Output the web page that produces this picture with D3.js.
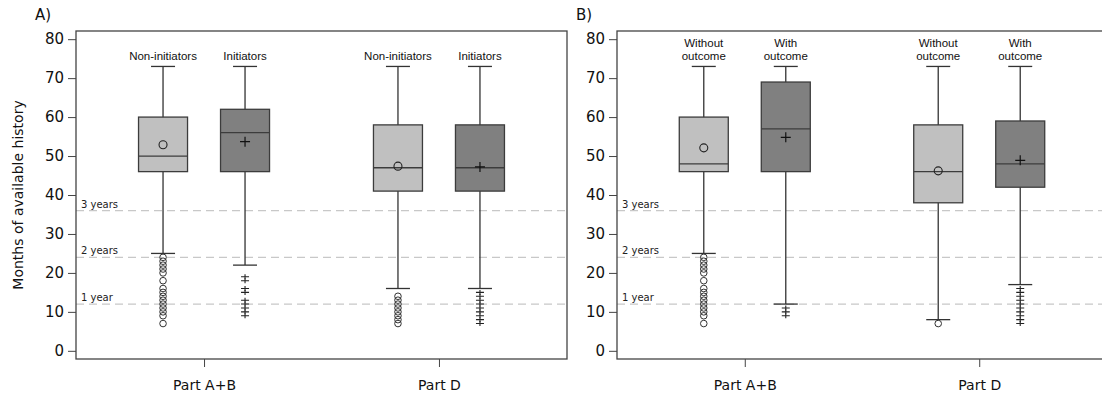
<!DOCTYPE html>
<html>
<head>
<meta charset="utf-8">
<script src="https://cdn.jsdelivr.net/npm/d3@7"></script>
<style>
  html, body { margin: 0; padding: 0; background: #fff; }
  svg { display: block; }
</style>
</head>
<body>
<svg id="chart" width="1102" height="395"></svg>
<script>
// Benefit parts shown along the x axis
const parts = ["Part A+B", "Part D"];

// Panel A: initiation status
const seriesA = ["Non-initiators", "Initiators"];
// Panel B: outcome status (label split over two lines)
const seriesB = ["Without outcome", "With outcome"];

// Box statistics per panel, part and series: [low whisker, Q1, median, Q3, high whisker, mean]
const statsA_nonInit = [[25, 46, 50, 60, 73, 52.9], [16, 41, 47, 58, 73, 47.4]];
const statsA_init    = [[22, 46, 56, 62, 73, 53.7], [16, 41, 47, 58, 73, 47.2]];
const statsB_without = [[25, 46, 48, 60, 73, 52.1], [8, 38, 46, 58, 73, 46.2]];
const statsB_with    = [[12, 46, 57, 69, 73, 54.8], [17, 42, 48, 59, 73, 48.9]];

// Outlying observations (months)
const outA_nonInit = [[24, 23, 22, 21, 20, 18, 16, 15, 14, 13, 12, 11, 10, 9, 7], [14, 13, 12, 11, 10, 9, 8, 7]];
const outA_init    = [[19, 18, 16, 15, 13, 12, 11, 10, 9], [15, 14, 13, 12, 11, 10, 9, 8, 7]];
const outB_without = [[24, 23, 22, 21, 20, 18, 16, 15, 14, 13, 12, 11, 10, 9, 7], [7]];
const outB_with    = [[11, 10, 9], [16, 15, 14, 13, 12, 11, 10, 9, 8, 7]];

// Reference thresholds
const refValues = [36, 24, 12];
const refLabels = ["3 years", "2 years", "1 year"];

// Y axis ticks
const yTicks = [0, 10, 20, 30, 40, 50, 60, 70, 80];

const svg = d3.select("#chart");
const plotTop = 31, plotBottom = 359;
const y = d3.scaleLinear().domain([-2.1, 82.1]).range([plotBottom, plotTop]);

const lightFill = "#c0c0c0", darkFill = "#808080", boxStroke = "#3c3c3c", lineCol = "#333";

function drawPanel(cfg) {
  const { left, right, tag, series, stats, outliers, labelLines } = cfg;
  const g = svg.append("g");

  const x = d3.scalePoint().domain(parts).range([left, right]).padding(0.545);
  const sub = d3.scalePoint().domain(series).range([-41, 41]);

  // panel tag
  g.append("text").attr("x", left - 41).attr("y", 20)
    .attr("font-family", "DejaVu Sans").attr("font-size", 15).attr("fill", "#111")
    .text(tag);

  // reference lines
  refValues.forEach((v, i) => {
    g.append("line").attr("x1", left).attr("x2", right)
      .attr("y1", y(v)).attr("y2", y(v))
      .attr("stroke", "#c8c8c8").attr("stroke-width", 1.2).attr("stroke-dasharray", "8,5");
    g.append("text").attr("x", left + 5).attr("y", y(v) - 3)
      .attr("font-family", "DejaVu Sans").attr("font-size", 10).attr("fill", "#222")
      .text(refLabels[i]);
  });

  // y axis
  const yAxis = d3.axisLeft(y).tickValues(yTicks).tickSize(8).tickPadding(4);
  const ya = g.append("g").attr("transform", `translate(${left},0)`).call(yAxis);
  ya.select(".domain").remove();
  ya.selectAll("line").attr("stroke", "#444");
  ya.selectAll("text").attr("font-family", "DejaVu Sans").attr("font-size", 15).attr("fill", "#111");

  // x axis
  const xAxis = d3.axisBottom(x).tickSize(8).tickPadding(13);
  const xa = g.append("g").attr("transform", `translate(0,${plotBottom})`).call(xAxis);
  xa.select(".domain").remove();
  xa.selectAll("line").attr("stroke", "#444");
  xa.selectAll("text").attr("font-family", "DejaVu Sans").attr("font-size", 14).attr("fill", "#111");

  const bw = 49, cw = 24;
  series.forEach((s, si) => {
    parts.forEach((p, pi) => {
      const cx = x(p) + sub(s);
      const [lo, q1, med, q3, hi, mean] = stats[si][pi];
      const fill = si === 0 ? lightFill : darkFill;

      // whisker stem and caps
      g.append("line").attr("x1", cx).attr("x2", cx).attr("y1", y(hi)).attr("y2", y(lo))
        .attr("stroke", lineCol).attr("stroke-width", 1.3);
      [hi, lo].forEach(v => g.append("line")
        .attr("x1", cx - cw / 2).attr("x2", cx + cw / 2).attr("y1", y(v)).attr("y2", y(v))
        .attr("stroke", lineCol).attr("stroke-width", 1.3));

      // box and median
      g.append("rect").attr("x", cx - bw / 2).attr("width", bw)
        .attr("y", y(q3)).attr("height", y(q1) - y(q3))
        .attr("fill", fill).attr("stroke", boxStroke).attr("stroke-width", 1.3);
      g.append("line").attr("x1", cx - bw / 2).attr("x2", cx + bw / 2)
        .attr("y1", y(med)).attr("y2", y(med))
        .attr("stroke", boxStroke).attr("stroke-width", 1.3);

      // mean marker and outliers
      if (si === 0) {
        g.append("circle").attr("cx", cx).attr("cy", y(mean)).attr("r", 4)
          .attr("fill", "none").attr("stroke", "#222").attr("stroke-width", 1.1);
        outliers[si][pi].forEach(v => g.append("circle")
          .attr("cx", cx).attr("cy", y(v)).attr("r", 3.3)
          .attr("fill", "none").attr("stroke", "#333").attr("stroke-width", 1));
      } else {
        const m = y(mean);
        g.append("path").attr("d", `M${cx - 5},${m}H${cx + 5}M${cx},${m - 5}V${m + 5}`)
          .attr("stroke", "#111").attr("stroke-width", 1.2).attr("fill", "none");
        outliers[si][pi].forEach(v => {
          const oy = y(v);
          g.append("path").attr("d", `M${cx - 4},${oy}H${cx + 4}M${cx},${oy - 2.5}V${oy + 2.5}`)
            .attr("stroke", "#222").attr("stroke-width", 1.1).attr("fill", "none");
        });
      }

      // series label above upper whisker
      const lines = labelLines[si];
      lines.forEach((t, li) => {
        g.append("text").attr("x", cx).attr("y", 60 - (lines.length - 1 - li) * 13)
          .attr("text-anchor", "middle")
          .attr("font-family", "Liberation Sans, Arial").attr("font-size", 11.5).attr("fill", "#111")
          .text(t);
      });
    });
  });

  // frame
  g.append("rect").attr("x", left).attr("y", plotTop).attr("width", right - left).attr("height", plotBottom - plotTop)
    .attr("fill", "none").attr("stroke", "#444").attr("stroke-width", 1.3);
}

drawPanel({
  left: 76, right: 567, tag: "A)", series: seriesA,
  stats: [statsA_nonInit, statsA_init], outliers: [outA_nonInit, outA_init],
  labelLines: [["Non-initiators"], ["Initiators"]]
});
drawPanel({
  left: 617, right: 1107, tag: "B)", series: seriesB,
  stats: [statsB_without, statsB_with], outliers: [outB_without, outB_with],
  labelLines: [["Without", "outcome"], ["With", "outcome"]]
});

// y axis title
svg.append("text")
  .attr("transform", "translate(23,195) rotate(-90)")
  .attr("text-anchor", "middle")
  .attr("font-family", "DejaVu Sans").attr("font-size", 14).attr("fill", "#111")
  .text("Months of available history");
</script>
</body>
</html>
